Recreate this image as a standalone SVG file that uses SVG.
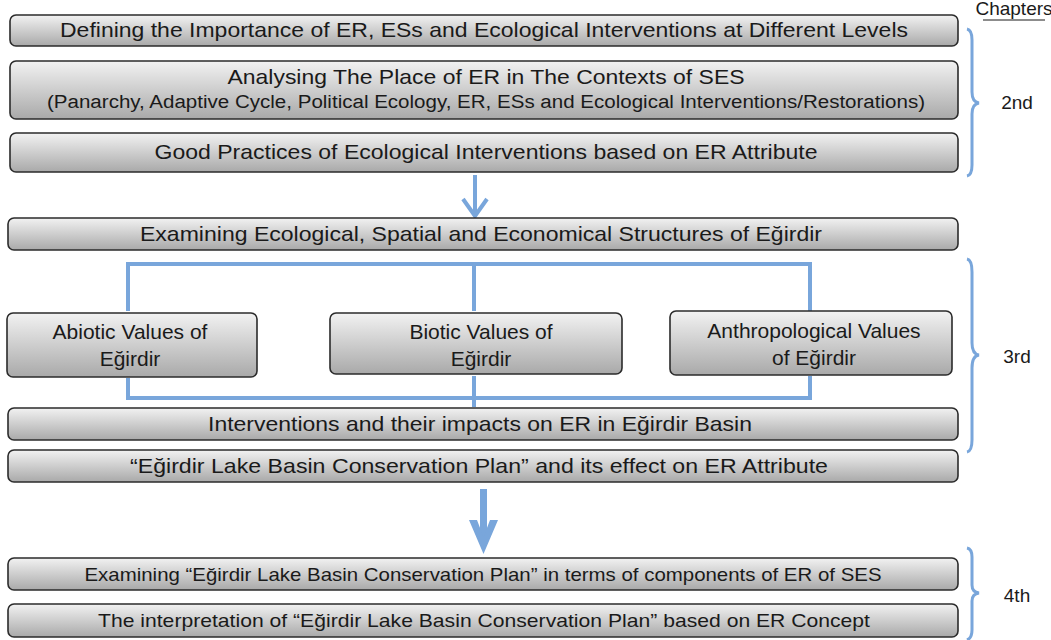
<svg xmlns="http://www.w3.org/2000/svg" width="1051" height="640" viewBox="0 0 1051 640">
  <defs>
    <linearGradient id="boxFill" x1="0" y1="0" x2="0" y2="1">
      <stop offset="0" stop-color="#f2f2f2"/>
      <stop offset="1" stop-color="#a9a9a9"/>
    </linearGradient>
    <style>
      .box { fill: url(#boxFill); stroke: #2b2b2b; stroke-width: 1.6; }
      .lbl { font-family: "Liberation Sans", Arial, sans-serif; fill: #1a1a1a; text-anchor: middle; }
      .blue { fill: none; stroke: #79a6db; stroke-linecap: butt; stroke-linejoin: miter; }
      .brace { fill: none; stroke: #79a6db; stroke-width: 3; }
      .side { font-family: "Liberation Sans", Arial, sans-serif; font-size: 19px; fill: #1a1a1a; }
    </style>
  </defs>

  <rect width="1051" height="640" fill="#ffffff"/>

  <!-- connectors: arrows and the frame around the three value boxes -->
  <g id="connectors">
    <line class="blue" x1="475" y1="175" x2="475" y2="216" stroke-width="4"/>
    <polyline class="blue" points="463,199 475,216 487,199" stroke-width="4"/>

    <polyline class="blue" points="128,311 128,264 810,264 810,311" stroke-width="4"/>
    <line class="blue" x1="474" y1="264" x2="474" y2="311" stroke-width="4"/>
    <polyline class="blue" points="128,378 128,398 810,398 810,376" stroke-width="4"/>
    <line class="blue" x1="474" y1="376" x2="474" y2="407" stroke-width="4"/>

    <rect x="480" y="489" width="7" height="50" fill="#79a6db"/>
    <polygon points="469,520 477,520 483.5,537 490,520 498,520 483.5,554" fill="#79a6db"/>
  </g>

  <!-- chapter braces and labels -->
  <g id="chapters">
    <text class="side" x="1014" y="15" font-size="12.5" text-anchor="middle">Chapters</text>
    <line x1="983" y1="20" x2="1045" y2="20" stroke="#1a1a1a" stroke-width="1"/>

    <path class="brace" d="M967,29 Q972,30 972,40 L972,92 Q972,102 979,103 Q972,104 972,114 L972,165 Q972,175 967,176"/>
    <text class="side" x="1017" y="109" text-anchor="middle">2nd</text>

    <path class="brace" d="M967,259 Q972,260 972,272 L972,343 Q972,354 979,355 Q972,356 972,368 L972,440 Q972,451 967,452"/>
    <text class="side" x="1017" y="363" text-anchor="middle">3rd</text>

    <path class="brace" d="M967,548 Q972,549 972,557 L972,585 Q972,592 979,593 Q972,594 972,601 L972,630 Q972,638 967,640"/>
    <text class="side" x="1017" y="602" text-anchor="middle">4th</text>
  </g>

  <g id="n-defining">
    <rect class="box" x="10" y="15" width="948" height="31" rx="6"/>
    <text class="lbl" x="484" y="37" font-size="21" textLength="848" lengthAdjust="spacingAndGlyphs">Defining the Importance of ER, ESs and Ecological Interventions at Different Levels</text>
  </g>

  <g id="n-analysing">
    <rect class="box" x="10" y="61" width="948" height="58" rx="6"/>
    <text class="lbl" x="486" y="84" font-size="21" textLength="517" lengthAdjust="spacingAndGlyphs">Analysing The Place of ER in The Contexts of SES</text>
    <text class="lbl" x="486" y="108" font-size="18" textLength="878" lengthAdjust="spacingAndGlyphs">(Panarchy, Adaptive Cycle, Political Ecology, ER, ESs and Ecological Interventions/Restorations)</text>
  </g>

  <g id="n-good-practices">
    <rect class="box" x="10" y="133" width="948" height="39" rx="6"/>
    <text class="lbl" x="486" y="159" font-size="21" textLength="663" lengthAdjust="spacingAndGlyphs">Good Practices of Ecological Interventions based on ER Attribute</text>
  </g>

  <g id="n-examining-structures">
    <rect class="box" x="8" y="218" width="950" height="32" rx="6"/>
    <text class="lbl" x="481" y="241" font-size="21" textLength="682" lengthAdjust="spacingAndGlyphs">Examining Ecological, Spatial and Economical Structures of Eğirdir</text>
  </g>

  <g id="n-abiotic">
    <rect class="box" x="7" y="313" width="250" height="64" rx="6"/>
    <text class="lbl" x="130" y="339" font-size="21">Abiotic Values of</text>
    <text class="lbl" x="130" y="366" font-size="21">Eğirdir</text>
  </g>

  <g id="n-biotic">
    <rect class="box" x="330" y="313" width="292" height="61" rx="6"/>
    <text class="lbl" x="481" y="339" font-size="21">Biotic Values of</text>
    <text class="lbl" x="481" y="366" font-size="21">Eğirdir</text>
  </g>

  <g id="n-anthropological">
    <rect class="box" x="670" y="311" width="282" height="64" rx="6"/>
    <text class="lbl" x="814" y="338" font-size="21">Anthropological Values</text>
    <text class="lbl" x="814" y="365" font-size="21">of Eğirdir</text>
  </g>

  <g id="n-interventions">
    <rect class="box" x="8" y="408" width="950" height="32" rx="6"/>
    <text class="lbl" x="480" y="431" font-size="21" textLength="544" lengthAdjust="spacingAndGlyphs">Interventions and their impacts on ER in Eğirdir Basin</text>
  </g>

  <g id="n-conservation-plan">
    <rect class="box" x="8" y="450" width="950" height="32" rx="6"/>
    <text class="lbl" x="479" y="473" font-size="21" textLength="698" lengthAdjust="spacingAndGlyphs">“Eğirdir Lake Basin Conservation Plan” and its effect on ER Attribute</text>
  </g>

  <g id="n-examining-plan">
    <rect class="box" x="8" y="558" width="950" height="32" rx="6"/>
    <text class="lbl" x="483" y="581" font-size="19" textLength="797" lengthAdjust="spacingAndGlyphs">Examining “Eğirdir Lake Basin Conservation Plan” in terms of components of ER of SES</text>
  </g>

  <g id="n-interpretation">
    <rect class="box" x="8" y="604" width="950" height="33" rx="6"/>
    <text class="lbl" x="484" y="627" font-size="19" textLength="772" lengthAdjust="spacingAndGlyphs">The interpretation of “Eğirdir Lake Basin Conservation Plan” based on ER Concept</text>
  </g>
</svg>
